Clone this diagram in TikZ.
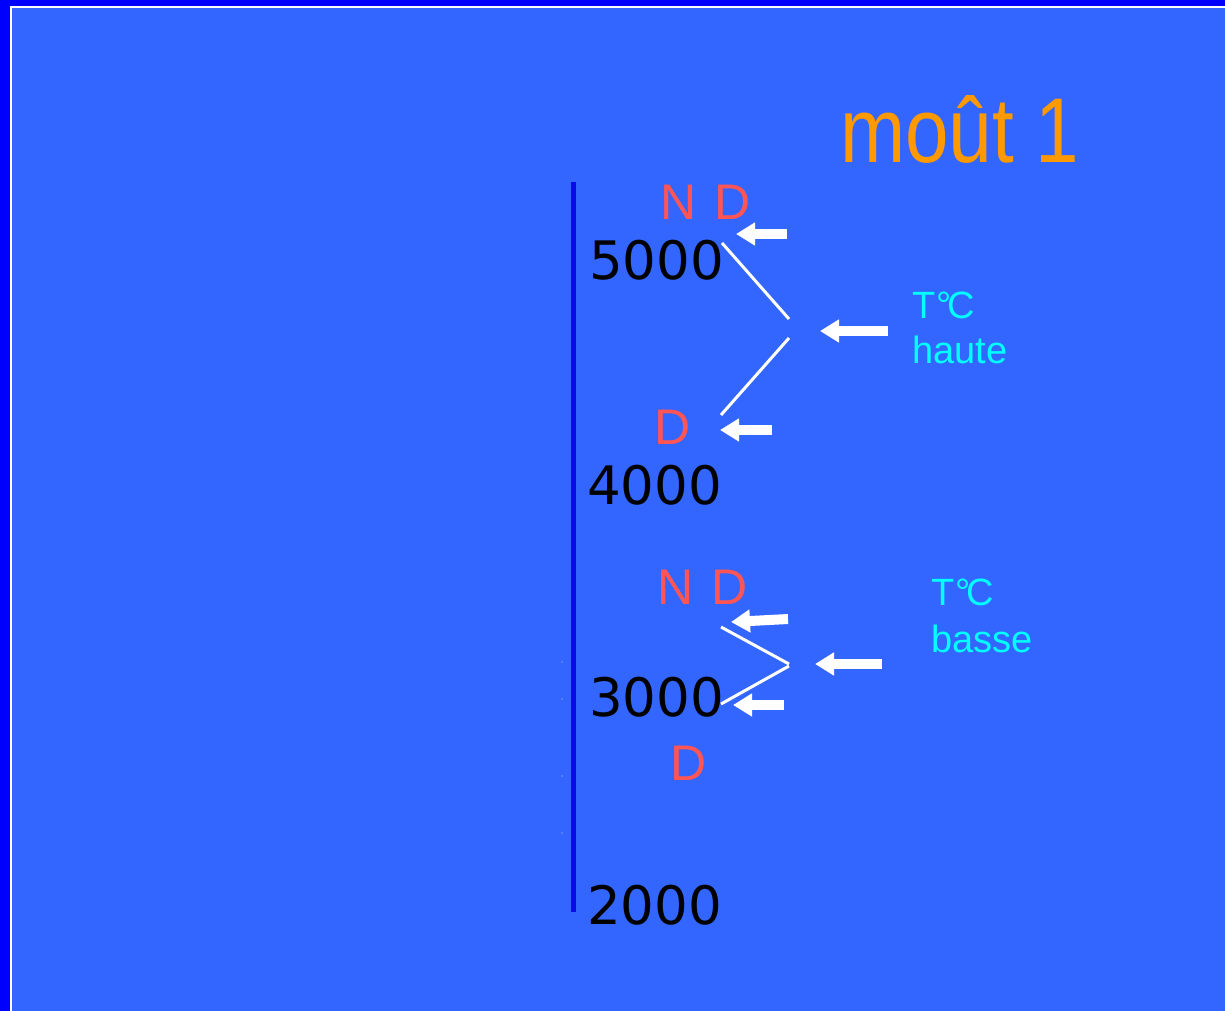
\documentclass[tikz,border=0pt]{standalone}
\usepackage{fontspec}
\setmainfont{Liberation Sans}
\newfontfamily\numfont{DejaVu Sans}
\usetikzlibrary{arrows.meta}
\definecolor{bgblue}{HTML}{3366FF}
\definecolor{darkblue}{HTML}{0000FF}
\definecolor{axisblue}{HTML}{0A0AEE}
\definecolor{lblred}{HTML}{FF5555}
\definecolor{ttlorange}{HTML}{FF9900}
\definecolor{lblcyan}{HTML}{00FFFF}
\tikzset{
  num/.style={anchor=base west, inner sep=0pt, font=\numfont\fontsize{53}{53}\selectfont, text=black},
  nd/.style={anchor=base west, inner sep=0pt, font=\fontsize{50}{50}\selectfont, text=lblred},
  temp/.style={anchor=base west, inner sep=0pt, font=\fontsize{38}{38}\selectfont, text=lblcyan},
  wline/.style={draw=white, line width=3pt},
  blockarrow/.style={draw=white, line width=10pt, -{Triangle[length=19pt,width=22pt]}},
}
\begin{document}
\begin{tikzpicture}[x=1pt,y=-1pt]
\useasboundingbox (0,0) rectangle (1225,1011);
\fill[darkblue] (0,0) rectangle (1225,1011);
\fill[white] (10,6) rectangle (1225,1011);
\fill[bgblue] (12,8) rectangle (1225,1011);

% title
\node[anchor=base west, inner sep=0pt, text=ttlorange, font=\fontsize{92}{92}\selectfont, xscale=0.85] (title) at (840,163) {moût 1};

% axis
\coordinate (axtop) at (573.5,182);
\coordinate (axbot) at (573.5,912);
\draw[axisblue, line width=5pt] (axtop) -- (axbot);
\foreach \yy in {662,699,776,833} \fill[white!70!bgblue] (562,\yy) circle (0.7pt);

% numbers
\node[num] (n5000) at (589,279) {5000};
\node[num] (n4000) at (587,504) {4000};
\node[num] (n3000) at (589,716) {3000};
\node[num] (n2000) at (587,924) {2000};

% red labels
\node[nd] (nd1) at (660,219) {N\kern0.08em\ D};
\node[nd] (d1) at (654,444) {D};
\node[nd] (nd2) at (657,604) {N\kern0.08em\ D};
\node[nd] (d2) at (670,780) {D};

% cyan labels
\node[temp] (th1) at (912,318) {T\kern0.02em°\kern-0.1emC};
\node[temp] (th2) at (912,363) {haute};
\node[temp] (tb1) at (931,605) {T\kern0.02em°\kern-0.1emC};
\node[temp] (tb2) at (931,652) {basse};

% white lines (upper)
\coordinate (u1a) at (722,243); \coordinate (u1b) at (789,319);
\coordinate (u2a) at (789,338); \coordinate (u2b) at (721,415);
\draw[wline] (u1a) -- (u1b);
\draw[wline] (u2a) -- (u2b);
% white lines (lower)
\coordinate (l1a) at (721,627); \coordinate (l1b) at (789,664);
\coordinate (l2a) at (789,666); \coordinate (l2b) at (721,704);
\draw[wline] (l1a) -- (l1b);
\draw[wline] (l2a) -- (l2b);

% arrows
\coordinate (a1s) at (787,234); \coordinate (a1t) at (736,234);
\coordinate (a2s) at (888,331); \coordinate (a2t) at (820,331);
\coordinate (a3s) at (772,430); \coordinate (a3t) at (720,430);
\coordinate (a4s) at (788,619); \coordinate (a4t) at (731,622);
\coordinate (a5s) at (882,664); \coordinate (a5t) at (815,664);
\coordinate (a6s) at (784,705); \coordinate (a6t) at (733,705);
\foreach \a in {1,...,6} \draw[blockarrow] (a\a s) -- (a\a t);
\end{tikzpicture}
\end{document}
